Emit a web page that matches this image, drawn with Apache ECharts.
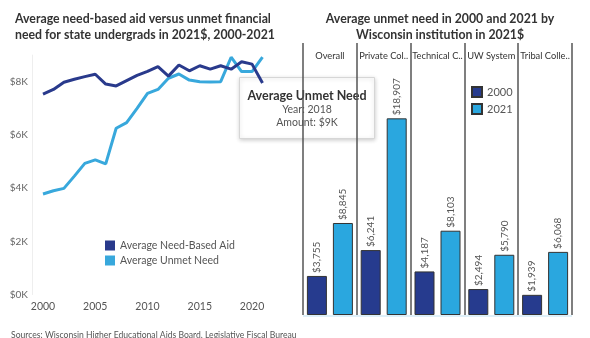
<!DOCTYPE html>
<html>
<head>
<meta charset="utf-8">
<script src="https://cdn.jsdelivr.net/npm/echarts@6/dist/echarts.min.js"></script>
<style>
  html, body { margin: 0; padding: 0; background: #fff; }
  #chart { width: 590px; height: 338px; }
</style>
</head>
<body>
<div id="chart"></div>
<script>
// Left panel: yearly averages, 2021 dollars
const years = [2000, 2001, 2002, 2003, 2004, 2005, 2006, 2007, 2008, 2009, 2010,
               2011, 2012, 2013, 2014, 2015, 2016, 2017, 2018, 2019, 2020, 2021];
const needBasedAid = [7530, 7710, 7980, 8090, 8190, 8280, 7910, 7840, 8040, 8240, 8390,
                      8570, 8210, 8630, 8410, 8600, 8470, 8600, 8470, 8750, 8660, 7950];
const unmetNeed = [3780, 3900, 3990, 4450, 4930, 5060, 4910, 6250, 6460, 7000, 7560,
                   7710, 8130, 8290, 8060, 8000, 7990, 8000, 8920, 8380, 8380, 8920];
const lineNames = ['Average Need-Based Aid', 'Average Unmet Need'];

// Right panel: unmet need by institution type
const institutions = ['Overall', 'Private Col..', 'Technical C..', 'UW System', 'Tribal Colle..'];
const unmet2000 = [3755, 6241, 4187, 2494, 1939];
const unmet2021 = [8845, 18907, 8103, 5790, 6068];
const barNames = ['2000', '2021'];

// Point described in the hover card
const highlightIndex = years.indexOf(2018);

const FONT = 'Lato, "Open Sans", sans-serif';
const NAVY = '#293a8c';
const SKY = '#38a8dc';
const BAR_NAVY = '#263b8e';
const BAR_SKY = '#2aa7df';

const money = v => '$' + v.toLocaleString('en-US');

const chart = echarts.init(document.getElementById('chart'), null, { renderer: 'canvas' });

const barLabel = {
  show: true, position: 'top', rotate: 90, align: 'left', verticalAlign: 'middle',
  distance: 3, formatter: p => money(p.value),
  fontFamily: FONT, fontSize: 10, color: '#555'
};

const option = {
  backgroundColor: '#fff',
  animation: false,
  textStyle: { fontFamily: FONT },
  title: [
    {
      text: 'Average need-based aid versus unmet financial\nneed for state undergrads in 2021$, 2000-2021',
      left: 10, top: 6,
      textStyle: { fontFamily: FONT, fontSize: 12.3, fontWeight: 'bold', color: '#333', lineHeight: 16 }
    },
    {
      text: 'Average unmet need in 2000 and 2021 by\nWisconsin institution in 2021$',
      left: 435, top: 6, textAlign: 'center',
      textStyle: { fontFamily: FONT, fontSize: 12.3, fontWeight: 'bold', color: '#333', lineHeight: 16 }
    },
    {
      text: 'Sources: Wisconsin Higher Educational Aids Board, Legislative Fiscal Bureau',
      left: 6, top: 326,
      textStyle: { fontFamily: FONT, fontSize: 8.6, fontWeight: 'normal', color: '#555' }
    }
  ],
  legend: [
    {
      data: lineNames,
      orient: 'vertical', left: 100, top: 235,
      icon: 'rect', itemWidth: 10, itemHeight: 10, itemGap: 4,
      selectedMode: false,
      textStyle: { fontFamily: FONT, fontSize: 10.5, color: '#555' }
    },
    {
      data: barNames,
      orient: 'vertical', left: 466, top: 81,
      icon: 'rect', itemWidth: 10, itemHeight: 10, itemGap: 5,
      selectedMode: false,
      textStyle: { fontFamily: FONT, fontSize: 11, color: '#555' }
    }
  ],
  grid: [
    { left: 43, right: 327.5, top: 55.1, bottom: 43.5 },
    { left: 303, right: 18, top: 43, bottom: 23 }
  ],
  xAxis: [
    {
      gridIndex: 0, type: 'value', min: 2000, max: 2021, interval: 5,
      axisLine: { show: false },
      axisTick: { show: false },
      splitLine: { show: false },
      axisLabel: {
        showMaxLabel: false, margin: 7,
        formatter: v => String(v),
        fontFamily: FONT, fontSize: 10.5, color: '#555'
      }
    },
    {
      gridIndex: 1, type: 'category', data: institutions, position: 'top',
      axisLine: { show: false },
      axisTick: { show: false },
      axisLabel: {
        inside: true, margin: 8, interval: 0,
        fontFamily: FONT, fontSize: 9.3, color: '#333'
      },
      splitLine: { show: true, interval: 0, lineStyle: { color: '#555', width: 1.5 } }
    }
  ],
  yAxis: [
    {
      gridIndex: 0, type: 'value', min: 0, max: 9000, interval: 2000,
      offset: 11,
      axisLine: { show: true, lineStyle: { color: '#eeeeee' } },
      axisTick: { show: false },
      splitLine: { show: false },
      axisLabel: {
        showMaxLabel: false, margin: 4,
        formatter: v => '$' + (v / 1000) + 'K',
        fontFamily: FONT, fontSize: 10, color: '#666'
      }
    },
    {
      gridIndex: 1, type: 'value', min: 0, max: 26150,
      axisLine: { show: false }, axisTick: { show: false },
      axisLabel: { show: false }, splitLine: { show: false }
    }
  ],
  series: [
    {
      name: lineNames[0], type: 'line', xAxisIndex: 0, yAxisIndex: 0,
      data: years.map((y, i) => [y, needBasedAid[i]]),
      showSymbol: false, symbol: 'none',
      lineStyle: { color: NAVY, width: 3 },
      itemStyle: { color: NAVY },
      z: 3
    },
    {
      name: lineNames[1], type: 'line', xAxisIndex: 0, yAxisIndex: 0,
      data: years.map((y, i) => [y, unmetNeed[i]]),
      showSymbol: false, symbol: 'none',
      lineStyle: { color: SKY, width: 3 },
      itemStyle: { color: SKY },
      z: 2
    },
    {
      name: barNames[0], type: 'bar', xAxisIndex: 1, yAxisIndex: 1,
      data: unmet2000,
      barWidth: 20, barGap: '30%',
      itemStyle: { color: BAR_NAVY, borderColor: '#333', borderWidth: 1 },
      label: barLabel
    },
    {
      name: barNames[1], type: 'bar', xAxisIndex: 1, yAxisIndex: 1,
      data: unmet2021,
      barWidth: 20, barGap: '30%',
      itemStyle: { color: BAR_SKY, borderColor: '#333', borderWidth: 1 },
      label: barLabel
    }
  ],
  graphic: [
    {
      type: 'group', left: 239, top: 77, z: 100,
      children: [
        {
          type: 'rect', shape: { x: 0, y: 0, width: 135, height: 61 },
          style: {
            fill: '#fff', stroke: '#d6d6d6', lineWidth: 1,
            shadowBlur: 4, shadowColor: 'rgba(0,0,0,0.18)', shadowOffsetY: 1
          }
        },
        {
          type: 'text', x: 67.5, y: 18,
          style: {
            text: lineNames[1],
            align: 'center', verticalAlign: 'middle',
            font: 'bold 12.5px ' + FONT, fill: '#333'
          }
        },
        {
          type: 'text', x: 67.5, y: 32.5,
          style: {
            text: 'Year: ' + years[highlightIndex],
            align: 'center', verticalAlign: 'middle',
            font: '10.5px ' + FONT, fill: '#555'
          }
        },
        {
          type: 'text', x: 67.5, y: 45.5,
          style: {
            text: 'Amount: $' + Math.round(unmetNeed[highlightIndex] / 1000) + 'K',
            align: 'center', verticalAlign: 'middle',
            font: '10.5px ' + FONT, fill: '#555'
          }
        }
      ]
    },
    {
      // faint baseline under the bars
      type: 'line', z: 1,
      shape: { x1: 303, y1: 316, x2: 572, y2: 316 },
      style: { stroke: '#d3ebf7', lineWidth: 1.5 }
    }
  ]
};

chart.setOption(option);
</script>
</body>
</html>
